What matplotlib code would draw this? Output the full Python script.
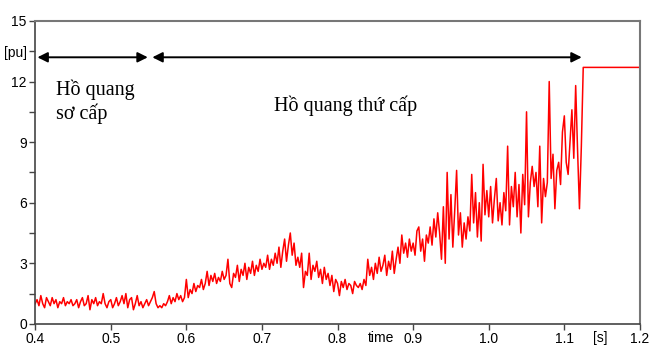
import numpy as np
import matplotlib
matplotlib.use("Agg")
import matplotlib.pyplot as plt

# sampled arc current [pu], one value every 2.5 ms starting at 0.4 s
t0 = 0.4
dt = 0.0025
current = [
    1.0, 1.2, 0.9, 1.4, 1.0, 0.8, 1.3, 1.1,
    0.9, 1.3, 1.0, 1.2, 0.8, 1.1, 1.0, 1.3,
    0.9, 1.1, 1.0, 1.2, 0.9, 1.0, 1.2, 0.8,
    1.1, 1.3, 0.9, 1.0, 1.4, 0.7, 1.2, 1.0,
    1.3, 0.9, 1.1, 1.0, 1.5, 1.0, 0.8, 1.1,
    1.2, 0.8, 1.0, 1.3, 0.9, 1.1, 1.4, 1.0,
    1.5, 0.8, 1.2, 1.3, 0.7, 1.0, 1.4, 0.9,
    1.1, 0.8, 1.0, 1.2, 0.9, 1.1, 1.3, 1.6,
    1.0, 0.8, 0.9, 0.8, 1.0, 0.9, 1.1, 1.4,
    1.0, 1.3, 1.1, 1.5, 1.2, 1.4, 1.1, 1.3,
    2.2, 1.3, 1.7, 1.5, 2.0, 1.6, 1.9, 1.8,
    2.2, 1.7, 2.0, 2.6, 1.9, 2.4, 2.1, 2.5,
    2.0, 2.3, 2.1, 2.6, 2.2, 2.4, 3.2, 2.0,
    1.8, 2.5, 2.3, 2.9, 2.1, 2.7, 2.4, 3.0,
    2.2, 2.8, 2.5, 3.1, 2.4, 2.9, 2.6, 3.2,
    2.7, 3.0, 2.8, 3.4, 2.7, 3.2, 2.9, 3.5,
    3.0, 3.8, 2.8, 3.6, 4.2, 3.1, 3.9, 4.5,
    3.4, 4.0, 2.9, 3.3, 2.8, 3.5, 1.8, 2.6,
    2.4, 3.5, 2.2, 2.9, 2.6, 3.1, 2.3, 2.7,
    2.0, 2.8, 2.2, 2.5, 1.9, 2.4, 1.6, 2.2,
    2.0, 1.4, 2.1, 1.8, 2.2, 1.7, 2.0, 1.9,
    1.5, 2.1, 1.9, 1.8, 2.0, 1.7, 2.2, 1.9,
    3.2, 2.4, 2.8, 2.2, 3.0, 2.5, 3.3, 2.6,
    2.9, 3.4, 2.4, 3.1, 2.7, 3.6, 2.5, 3.2,
    3.8, 3.0, 4.4, 3.5, 4.0, 3.3, 4.2, 3.6,
    4.0, 3.4, 4.6, 4.8, 3.6, 4.2, 3.1, 4.4,
    4.0, 4.8, 3.9, 5.2, 4.3, 5.5, 4.5, 3.2,
    5.8, 3.0, 7.5, 4.2, 6.4, 3.8, 5.6, 7.6,
    4.4, 5.5, 3.8, 5.0, 4.2, 5.3, 4.6, 7.4,
    5.0, 6.5, 4.3, 6.0, 4.1, 7.9, 5.4, 6.6,
    5.3, 6.8, 5.0, 6.2, 7.2, 5.1, 6.0, 4.9,
    6.5, 5.6, 8.8, 4.9, 6.8, 5.8, 7.5, 5.3,
    6.9, 4.5, 7.4, 5.9, 10.5, 5.3, 7.0, 7.8,
    6.8, 7.5, 5.8, 8.8, 5.0, 7.2, 6.3, 7.0,
    12.0, 7.2, 8.4, 5.7, 7.6, 8.0, 6.9, 9.5,
    10.3, 8.0, 7.4, 9.0, 10.6, 8.2, 11.8, 8.6,
    5.7, 8.8,
]
# after the arc extinguishes the value stays constant
step_time = [1.125, 1.2]
step_value = [12.7, 12.7]

time = t0 + dt * np.arange(len(current))
time = np.concatenate([time, step_time])
values = np.concatenate([current, step_value])

x_ticks = [0.4, 0.5, 0.6, 0.7, 0.8, 0.9, 1.0, 1.1, 1.2]
y_ticks = [0, 1.5, 3, 4.5, 6, 7.5, 9, 10.5, 12, 13.5, 15]
y_labels = ['0', '', '3', '', '6', '', '9', '', '12', '[pu]', '15']

tick_font = ['Liberation Sans Narrow', 'Liberation Sans', 'DejaVu Sans']
text_font = ['Liberation Serif', 'DejaVu Serif']

fig = plt.figure(figsize=(6.51, 3.49), dpi=100)
ax = fig.add_axes([0.054, 0.072, 0.929, 0.868])

ax.plot(time, values, color='red', lw=1.1)

ax.set_xlim(0.4, 1.2)
ax.set_ylim(0, 15)
ax.set_xticks(x_ticks)
ax.set_xticklabels([f'{v:.1f}' for v in x_ticks], family=tick_font, fontsize=10)
ax.set_yticks(y_ticks)
ax.set_yticklabels(y_labels, family=tick_font, fontsize=10)
ax.tick_params(direction='out', length=4, width=1, color='#444', pad=2)

for side in ['left', 'bottom']:
    ax.spines[side].set_color('#444')
    ax.spines[side].set_linewidth(1.2)
for side in ['top', 'right']:
    ax.spines[side].set_color('#777')
    ax.spines[side].set_linewidth(1.5)

# unit labels placed among the tick labels
ax.text(0.858, -0.022, 'time', transform=ax.get_xaxis_transform(),
        ha='center', va='top', family=tick_font, fontsize=10)
ax.text(1.147, -0.022, '[s]', transform=ax.get_xaxis_transform(),
        ha='center', va='top', family=tick_font, fontsize=10)

# arrows marking the two arc stages
arrow = dict(arrowstyle='<|-|>', color='black', lw=1.4,
             mutation_scale=15, shrinkA=0, shrinkB=0)
ax.annotate('', xy=(0.403, 13.2), xytext=(0.549, 13.2), arrowprops=arrow)
ax.annotate('', xy=(0.555, 13.2), xytext=(1.123, 13.2), arrowprops=arrow)

ax.text(0.428, 11.0, 'Hồ quang\nsơ cấp', family=text_font, fontsize=14.5,
        ha='left', va='center', linespacing=1.25)
ax.text(0.81, 10.8, 'Hồ quang thứ cấp', family=text_font, fontsize=14.5,
        ha='center', va='center')

fig.savefig('out.png', dpi=100)
